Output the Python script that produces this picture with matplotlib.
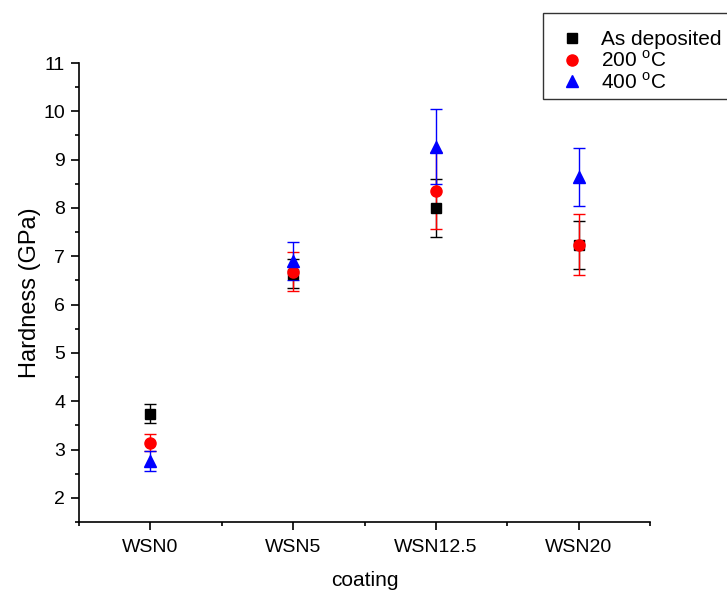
import matplotlib
matplotlib.use("Agg")
import matplotlib.pyplot as plt
from matplotlib.ticker import MultipleLocator, FixedLocator

plt.rcParams['font.family'] = ['Liberation Sans', 'DejaVu Sans']
plt.rcParams['mathtext.fontset'] = 'custom'
plt.rcParams['mathtext.rm'] = 'Liberation Sans'

categories = ["WSN0", "WSN5", "WSN12.5", "WSN20"]
as_dep = [3.74, 6.64, 8.00, 7.24]
as_dep_err = [0.20, 0.30, 0.60, 0.50]
t200 = [3.14, 6.68, 8.36, 7.24]
t200_err = [0.18, 0.40, 0.80, 0.63]
t400 = [2.76, 6.90, 9.27, 8.65]
t400_err = [0.20, 0.40, 0.78, 0.60]

fig = plt.figure(figsize=(7.27, 5.93), dpi=100)
ax = fig.add_axes([79/727, 71/593, (650-79)/727, (522-63)/593])

x = list(range(len(categories)))
ax.errorbar(x, as_dep, yerr=as_dep_err, fmt='s', color='black', ms=7,
            capsize=4, elinewidth=1, capthick=1, label='As deposited')
ax.errorbar(x, t200, yerr=t200_err, fmt='o', color='red', ms=8,
            capsize=4, elinewidth=1, capthick=1, label='200 $^{\\mathrm{o}}$C')
ax.errorbar(x, t400, yerr=t400_err, fmt='^', color='blue', ms=9,
            capsize=4, elinewidth=1, capthick=1, label='400 $^{\\mathrm{o}}$C')

ax.set_xlim(-0.5, 3.5)
ax.set_ylim(1.5, 11)
ax.set_xticks(x)
ax.set_xticklabels(categories)
ax.xaxis.set_minor_locator(FixedLocator([-0.5, 0.5, 1.5, 2.5, 3.5]))
ax.yaxis.set_major_locator(FixedLocator(list(range(2, 12))))
ax.yaxis.set_minor_locator(MultipleLocator(0.5))
ax.tick_params(axis='both', which='major', direction='out', length=6, width=1.2, labelsize=14)
ax.tick_params(axis='x', which='major', pad=6)
ax.tick_params(axis='y', which='major', pad=4)
ax.tick_params(axis='both', which='minor', direction='out', length=3, width=1.2)
for s in ['top', 'right']:
    ax.spines[s].set_visible(False)
for s in ['left', 'bottom']:
    ax.spines[s].set_linewidth(1.2)

ax.set_ylabel('Hardness (GPa)', fontsize=17, labelpad=2)
ax.set_xlabel('coating', fontsize=15, labelpad=11)

h, l = ax.get_legend_handles_labels()
h = [hh[0] for hh in h]
leg = fig.legend(h, l, loc='upper left', bbox_to_anchor=(543/727, 1 - 13/593),
                 fontsize=15, frameon=True, fancybox=False, edgecolor='black',
                 handlelength=2.2, handletextpad=0.3, borderpad=0.3, labelspacing=0.05,
                 borderaxespad=0, title=' ', title_fontsize=7)
leg.get_frame().set_linewidth(1.0)

fig.savefig('out.png', dpi=100)
